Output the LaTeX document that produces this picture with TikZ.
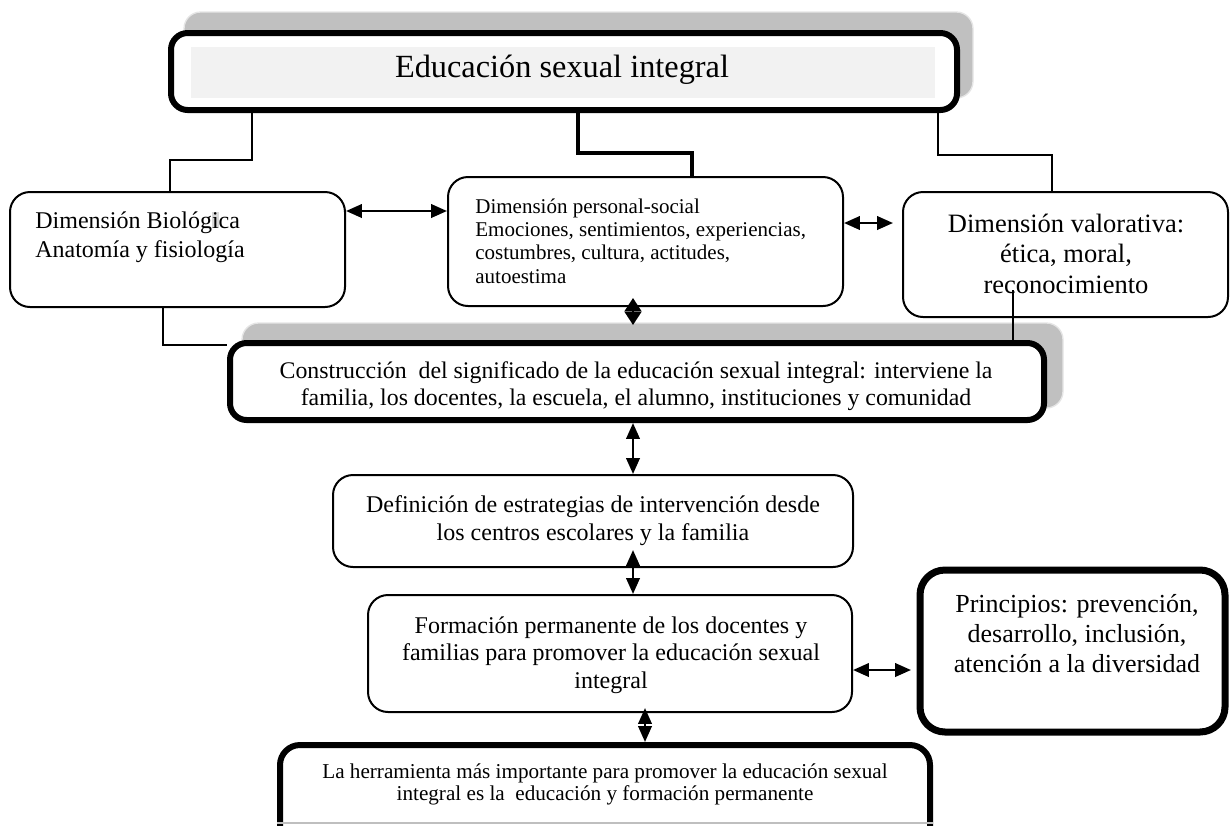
\documentclass[tikz,border=0pt]{standalone}
\usepackage{fontspec}
\setmainfont{Liberation Serif}
\usetikzlibrary{arrows.meta}
\definecolor{shadowgray}{HTML}{C0C0C0}
\definecolor{innergray}{HTML}{F2F2F2}
\definecolor{hlgray}{HTML}{D9D9D9}
\newcommand{\mlc}[1]{\begin{tabular}[t]{@{}c@{}}#1\end{tabular}}
\newcommand{\mll}[1]{\begin{tabular}[t]{@{}l@{}}#1\end{tabular}}
\newcommand{\fs}[2]{\fontsize{#1pt}{#2pt}\selectfont}
\begin{document}
\begin{tikzpicture}[x=0.6pt,y=-0.6pt,
  box/.style={draw, line width=1.2pt, rounded corners=12pt, inner sep=0pt, fill=white},
  thickbox/.style={draw, line width=3.6pt, rounded corners=10pt, inner sep=0pt, fill=white},
  shadowbox/.style={draw=black!10, line width=0.8pt, fill=shadowgray, rounded corners=10pt, inner sep=0pt},
  txt/.style={inner sep=0pt, anchor=base},
  conn/.style={line width=1.2pt},
  dbl/.style={line width=1.5pt, {Triangle[length=9.5pt,width=8pt]}-{Triangle[length=9.5pt,width=8pt]}},
  dia/.style={line width=1.5pt, {Triangle[length=8pt,width=10pt]}-{Triangle[length=8pt,width=10pt]}},
]
\useasboundingbox (0,0) rectangle (1230,825);

% top box
\node[shadowbox, minimum width=473.4pt, minimum height=51.6pt] (topS) at (578.5,55) {};
\node[thickbox, minimum width=471.6pt, minimum height=46.2pt] (top) at (564,71.5) {};
\node[fill=innergray, inner sep=0pt, minimum width=446.4pt, minimum height=30.6pt] (topIn) at (563,72.5) {};
\node[txt, font=\fs{19.4}{23}] (tTop) at (562,77) {Educación sexual integral};

% three dimension boxes
\node[box, minimum width=201pt, minimum height=69pt] (bio) at (177.5,249.5) {};
\node[box, minimum width=237pt, minimum height=77.4pt] (pers) at (645.5,241.5) {};
\node[box, minimum width=195pt, minimum height=75pt] (valor) at (1065.5,254.5) {};

\node[txt, anchor=base west, font=\fs{14.4}{17.4}] (tBio) at (35,228)
  {\mll{Dimensión Biológ{\setlength{\fboxsep}{0pt}\colorbox{hlgray}{i}}ca\\Anatomía y fisiología}};
\node[txt, anchor=base west, font=\fs{12.6}{14}] (tPers) at (475,213)
  {\mll{Dimensión personal-social\\Emociones, sentimientos, experiencias,\\costumbres, cultura, actitudes,\\autoestima}};
\node[txt, font=\fs{15.9}{18.3}] (tValor) at (1066,232)
  {\mlc{Dimensión valorativa:\\ética, moral,\\reconocimiento}};

% construction box
\node[shadowbox, minimum width=492.6pt, minimum height=51pt] (consS) at (652.5,365.5) {};
\node[thickbox, minimum width=488.4pt, minimum height=46.2pt] (cons) at (637,381.5) {};
\node[txt, font=\fs{14.3}{16.2}] (tCons) at (636,378)
  {\mlc{Construcción\ \ del significado de la educación sexual integral: interviene la\\familia, los docentes, la escuela, el alumno, instituciones y comunidad}};

% lower boxes
\node[box, minimum width=312pt, minimum height=55.2pt] (def) at (593,521) {};
\node[txt, font=\fs{14.4}{16.8}] (tDef) at (593,512)
  {\mlc{Definición de estrategias de intervención desde\\los centros escolares y la familia}};

\node[box, minimum width=290.4pt, minimum height=70.2pt] (form) at (610,653.5) {};
\node[txt, font=\fs{14.4}{16.5}] (tForm) at (611,633)
  {\mlc{Formación permanente de los docentes y\\familias para promover la educación sexual\\integral}};

\node[draw, line width=4.2pt, rounded corners=15pt, inner sep=0pt, fill=white,
  minimum width=183pt, minimum height=97.2pt] (princ) at (1072.5,651) {};
\node[txt, font=\fs{15.6}{18}] (tPrinc) at (1077,612)
  {\mlc{Principios: prevención,\\desarrollo, inclusión,\\atención a la diversidad}};

\node[thickbox, rounded corners=12pt, minimum width=390pt, minimum height=72pt] (herr) at (605,805) {};
\node[txt, font=\fs{12.7}{13.2}] (tHerr) at (605,778)
  {\mlc{La herramienta más importante para promover la educación sexual\\integral es la\ \ educación y formación permanente}};
\draw[black!25, line width=0.8pt] (herr.west |- 0,823) -- (herr.east |- 0,823);

% elbow coordinates
\coordinate (cL1) at (252,160);
\coordinate (cL2) at (170,160);
\coordinate (cM1) at (578,153);
\coordinate (cM2) at (692,153);
\coordinate (cR1) at (938,155);
\coordinate (cR2) at (1052,155);
\coordinate (cB) at (163,345);
\coordinate (cV) at (1013,290);
\coordinate (aBP) at (0,211);
\coordinate (cPV) at (893,223);
\coordinate (cD1) at (633,298);
\coordinate (cD2) at (633,325);
\coordinate (cA) at (633,0);
\coordinate (cDF) at (633,550);
\coordinate (cFH) at (645,708);
\coordinate (cFP) at (911,670);

% connectors from top box
\draw[conn] (top.south -| cL1) -- (cL1) -- (cL2) -- (bio.north -| cL2);
\draw[line width=2.4pt] (top.south -| cM1) -- (cM1) -- (cM2) -- (pers.north -| cM2);
\draw[conn] (top.south -| cR1) -- (cR1) -- (cR2) -- (valor.north -| cR2);
\draw[conn] (bio.south -| cB) -- (cB) -- (cons.west |- cB);
\draw[line width=1pt] (cV) -- (cons.north -| cV);

% arrows
\draw[dbl] (bio.east |- aBP) -- (pers.west |- aBP);
\draw[dbl] (pers.east |- cPV) -- (cPV);
\draw[dia] (cD1) -- (cD2);
\draw[dbl] (cons.south -| cA) -- (def.north -| cA);
\draw[dbl] (cDF) -- (form.north -| cDF);
\draw[dbl] (cFH) -- (herr.north -| cFH);
\draw[dbl] (form.east |- cFP) -- (cFP);
\end{tikzpicture}
\end{document}
